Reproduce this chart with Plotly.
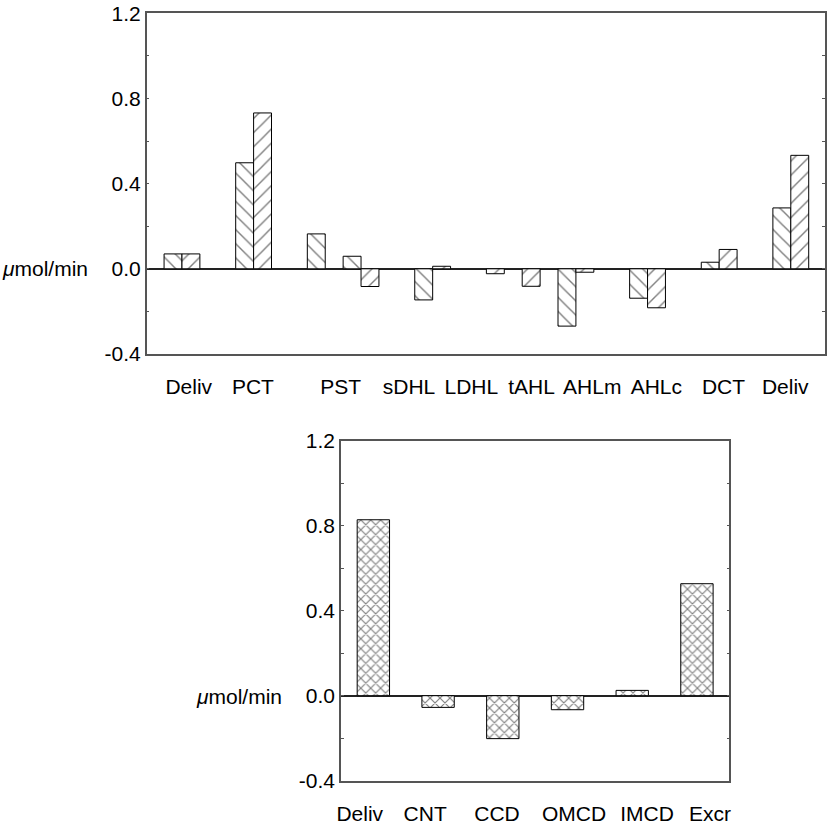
import plotly.graph_objects as go

# ---------------- data ----------------
# upper panel: two series of paired bars (slot index along the nephron)
upper_slots_back = [0, 4, 8, 10, 14, 22, 26, 30, 34]
upper_vals_back = [0.070, 0.498, 0.164, 0.059, -0.146, -0.269, -0.138, 0.031, 0.286]
upper_slots_fwd = [1, 5, 11, 15, 18, 20, 23, 27, 31, 35]
upper_vals_fwd = [0.070, 0.732, -0.083, 0.012, -0.023, -0.082, -0.016, -0.183, 0.091, 0.533]
upper_labels = ["Deliv", "PCT", "PST", "sDHL", "LDHL", "tAHL", "AHLm", "AHLc", "DCT", "Deliv"]
upper_label_pos = [0.88, 4.46, 9.36, 13.18, 16.66, 20.02, 23.41, 26.99, 30.74, 34.19]

# lower panel
lower_cats = [0, 1, 2, 3, 4, 5]
lower_labels = ["Deliv", "CNT", "CCD", "OMCD", "IMCD", "Excr"]
lower_vals = [0.828, -0.055, -0.202, -0.066, 0.025, 0.527]
lower_label_pos = [-0.21, 0.80, 1.91, 3.10, 4.23, 5.20]

y_tickvals = [-0.4, -0.2, 0.0, 0.2, 0.4, 0.6, 0.8, 1.0, 1.2]
y_ticktext = ["-0.4", "", "0.0", "", "0.4", "", "0.8", "", "1.2"]
y_label = "<i>\u03bc</i>mol/min"

FONT = "Liberation Sans, Arial, Helvetica, sans-serif"
W, H = 827, 833

fig = go.Figure()

fig.add_trace(go.Bar(
    x=upper_slots_back, y=upper_vals_back, width=1,
    marker=dict(color="white", line=dict(color="black", width=1),
                pattern=dict(shape="\\", fgcolor="black", bgcolor="white", size=10, solidity=0.14)),
    xaxis="x", yaxis="y", showlegend=False, hoverinfo="skip"))
fig.add_trace(go.Bar(
    x=upper_slots_fwd, y=upper_vals_fwd, width=1,
    marker=dict(color="white", line=dict(color="black", width=1),
                pattern=dict(shape="/", fgcolor="black", bgcolor="white", size=10, solidity=0.14)),
    xaxis="x", yaxis="y", showlegend=False, hoverinfo="skip"))
fig.add_trace(go.Bar(
    x=lower_cats, y=lower_vals, width=0.5,
    marker=dict(color="white", line=dict(color="black", width=1),
                pattern=dict(shape="x", fgcolor="black", bgcolor="white", size=7, solidity=0.3)),
    xaxis="x2", yaxis="y2", showlegend=False, hoverinfo="skip"))

def px_x(p):
    return p / W

def px_y(p):
    return 1 - p / H

frame = dict(showline=True, linecolor="#555555", linewidth=1.5, mirror=True,
             showgrid=False, automargin=False)

yax = dict(range=[-0.4, 1.2], tickvals=y_tickvals, ticktext=y_ticktext,
           ticks="inside", ticklen=3, tickcolor="#555555", tickwidth=1,
           zeroline=True, zerolinecolor="#222222", zerolinewidth=1.5,
           tickfont=dict(family=FONT, size=21, color="black"), **frame)
yax["mirror"] = "ticks"

xax = dict(ticks="outside", ticklen=13, tickcolor="rgba(0,0,0,0)", zeroline=False,
           tickfont=dict(family=FONT, size=21, color="black"), **frame)

fig.update_layout(
    width=W, height=H, autosize=False,
    margin=dict(l=0, r=0, t=0, b=0, pad=0),
    paper_bgcolor="white", plot_bgcolor="white",
    barmode="overlay",
    xaxis=dict(domain=[px_x(146.7), px_x(825)], range=[-1.47, 36.41],
               tickvals=upper_label_pos, ticktext=upper_labels, anchor="y", **xax),
    yaxis=dict(domain=[px_y(354), px_y(13.3)], anchor="x", **yax),
    xaxis2=dict(domain=[px_x(341), px_x(729.3)], range=[-0.5, 5.5],
                tickvals=lower_label_pos, ticktext=lower_labels, anchor="y2", **xax),
    yaxis2=dict(domain=[px_y(780.7), px_y(440.7)], anchor="x2", **yax),
    annotations=[
        dict(text=y_label, xref="paper", yref="paper", x=px_x(90), y=px_y(268),
             xanchor="right", yanchor="middle", showarrow=False,
             font=dict(family=FONT, size=21, color="black")),
        dict(text=y_label, xref="paper", yref="paper", x=px_x(284), y=px_y(696),
             xanchor="right", yanchor="middle", showarrow=False,
             font=dict(family=FONT, size=21, color="black")),
    ],
)

fig.write_html(
    "out.html",
    config={"displayModeBar": False},
    post_script="document.body.style.margin='0px';document.body.style.overflow='hidden';",
)
